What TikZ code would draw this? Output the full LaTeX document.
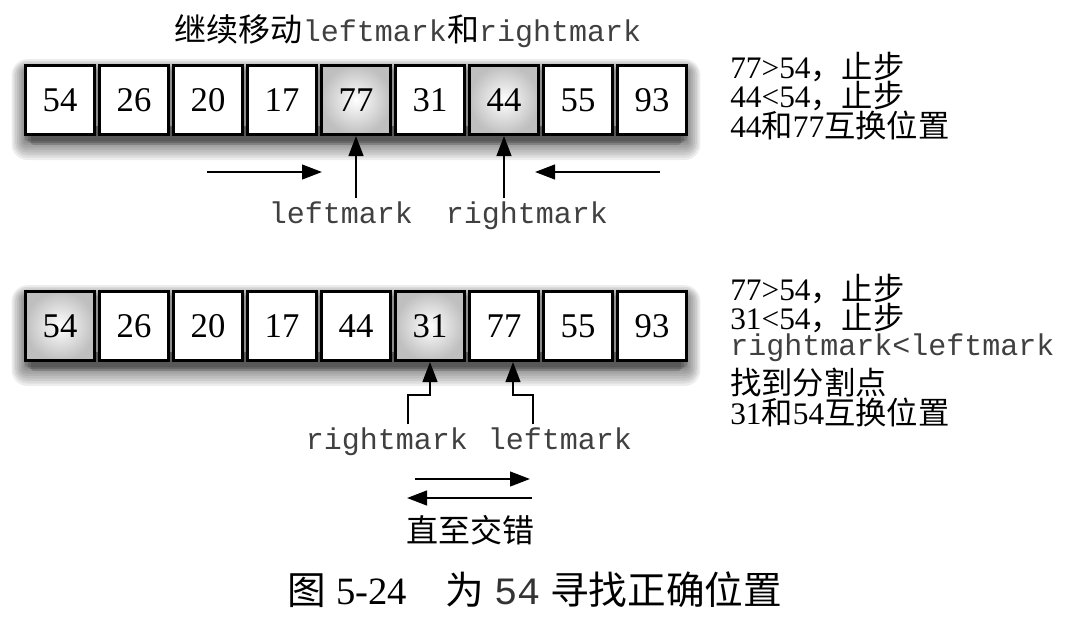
\documentclass[tikz,border=0pt]{standalone}
\usepackage{fontspec}
\setmainfont{Liberation Serif}
\setmonofont{Liberation Mono}
\newfontfamily\cjk{Noto Sans CJK SC}
\newcommand{\zh}[1]{{\cjk #1}}
\newcommand{\mono}[1]{{\fontsize{22.5}{22.5}\selectfont\ttfamily\color{black!75}#1}}
\usetikzlibrary{arrows.meta,backgrounds,calc}
\setlength{\lineskiplimit}{-100pt}

\begin{document}
\begin{tikzpicture}[x=0.75pt, y=-0.75pt,
    cell/.style = {draw, line width=2pt, minimum size=52pt, inner sep=0pt,
      shading=radial, inner color=white, font=\fontsize{26}{26}\selectfont},
    ptr/.style = {line width=1.7pt, -{Triangle[length=15pt, width=11pt]}},
    markname/.style = {anchor=base, inner sep=2pt, text=black!75,
      font=\fontsize{22.5}{22.5}\selectfont\ttfamily},
    note/.style = {anchor=base west, inner sep=0pt, align=left,
      font=\fontsize{23.5}{21.8}\selectfont}]

	\useasboundingbox (0,0) rectangle (1073,642);

	% step 1: move both marks
	\node[anchor=base, font=\fontsize{24}{24}\selectfont] (title) at (408,42)
		{\zh{继续移动}\mono{leftmark}\zh{和}\mono{rightmark}};
	\foreach \v/\c [count=\i from 0] in {54/white, 26/white, 20/white, 17/white, 77/black!25, 31/white, 44/black!25, 55/white, 93/white}
		\node[cell, outer color=\c] (t\i) at (60+74*\i, 100) {\v};

	% base = last line
	\node[note] (stepT) at (730,137)
		{77>54\zh{，止步}\\44<54\zh{，止步}\\44\zh{和}77\zh{互换位置}};

	\coordinate (goR) at (207,172);
	\coordinate (goRend) at (322,172);
	\coordinate (goL) at (660,172);
	\coordinate (goLend) at (535,172);
	\draw[ptr] (goR) -- (goRend);
	\draw[ptr] (goL) -- (goLend);

	\node[markname] (lmT) at (341,223) {leftmark};
	\node[markname] (rmT) at (527,223) {rightmark};
	\draw[ptr] (lmT.north -| t4.south) -- (t4.south);
	\draw[ptr] (rmT.north -| t6.south) -- (t6.south);

	% step 2: marks have crossed
	\foreach \v/\c [count=\i from 0] in {54/black!25, 26/white, 20/white, 17/white, 44/white, 31/black!25, 77/white, 55/white, 93/white}
		\node[cell, outer color=\c] (b\i) at (60+74*\i, 326) {\v};

	\node[note] (stepB) at (730,424)
		{77>54\zh{，止步}\\31<54\zh{，止步}\\[-2.2pt]\mono{rightmark<leftmark}\\[8pt]
		 \zh{找到分割点}\\31\zh{和}54\zh{互换位置}};

	\node[markname] (rmB) at (387,449) {rightmark};
	\node[markname] (lmB) at (560,449) {leftmark};
	\draw[ptr] ($(rmB.north)+(21,0)$) |- ($(b5.south)+(0,33)$) -- (b5.south);
	\draw[ptr] ($(lmB.north)+(-27,0)$) |- ($(b6.south)+(9,33)$) -- ($(b6.south)+(9,0)$);

	\coordinate (fwd) at (415,479);
	\coordinate (fwdEnd) at (530,479);
	\coordinate (back) at (532,498);
	\coordinate (backEnd) at (407,498);
	\draw[ptr] (fwd) -- (fwdEnd);
	\draw[ptr] (back) -- (backEnd);
	\node[font=\cjk\fontsize{24}{24}\selectfont] (until) at (470,530) {直至交错};

	\node[font=\fontsize{29}{29}\selectfont] (caption) at (535,590)
		{\zh{图} 5-24\quad\zh{为} {\ttfamily\color{black!80}54} \zh{寻找正确位置}};

	% soft shadow under each row, darker along the bottom
	\begin{scope}[on background layer]
		\foreach \rw in {t, b} {
			\foreach \k in {1,...,8}
				\fill[black, opacity=0.07, rounded corners=\k*1.5pt]
					($(\rw0.north west)+(2-1.8*\k, 8-1.6*\k)$) rectangle ($(\rw8.south east)+(1.8*\k-2, 4+2.5*\k)$);
			\foreach \j in {1,2,3}
				\fill[black, opacity=0.15, rounded corners=2pt]
					($(\rw0.south west)+(3*\j-2, -10)$) rectangle ($(\rw8.south east)+(2-3*\j, 3+2*\j)$);
		}
	\end{scope}
\end{tikzpicture}
\end{document}
